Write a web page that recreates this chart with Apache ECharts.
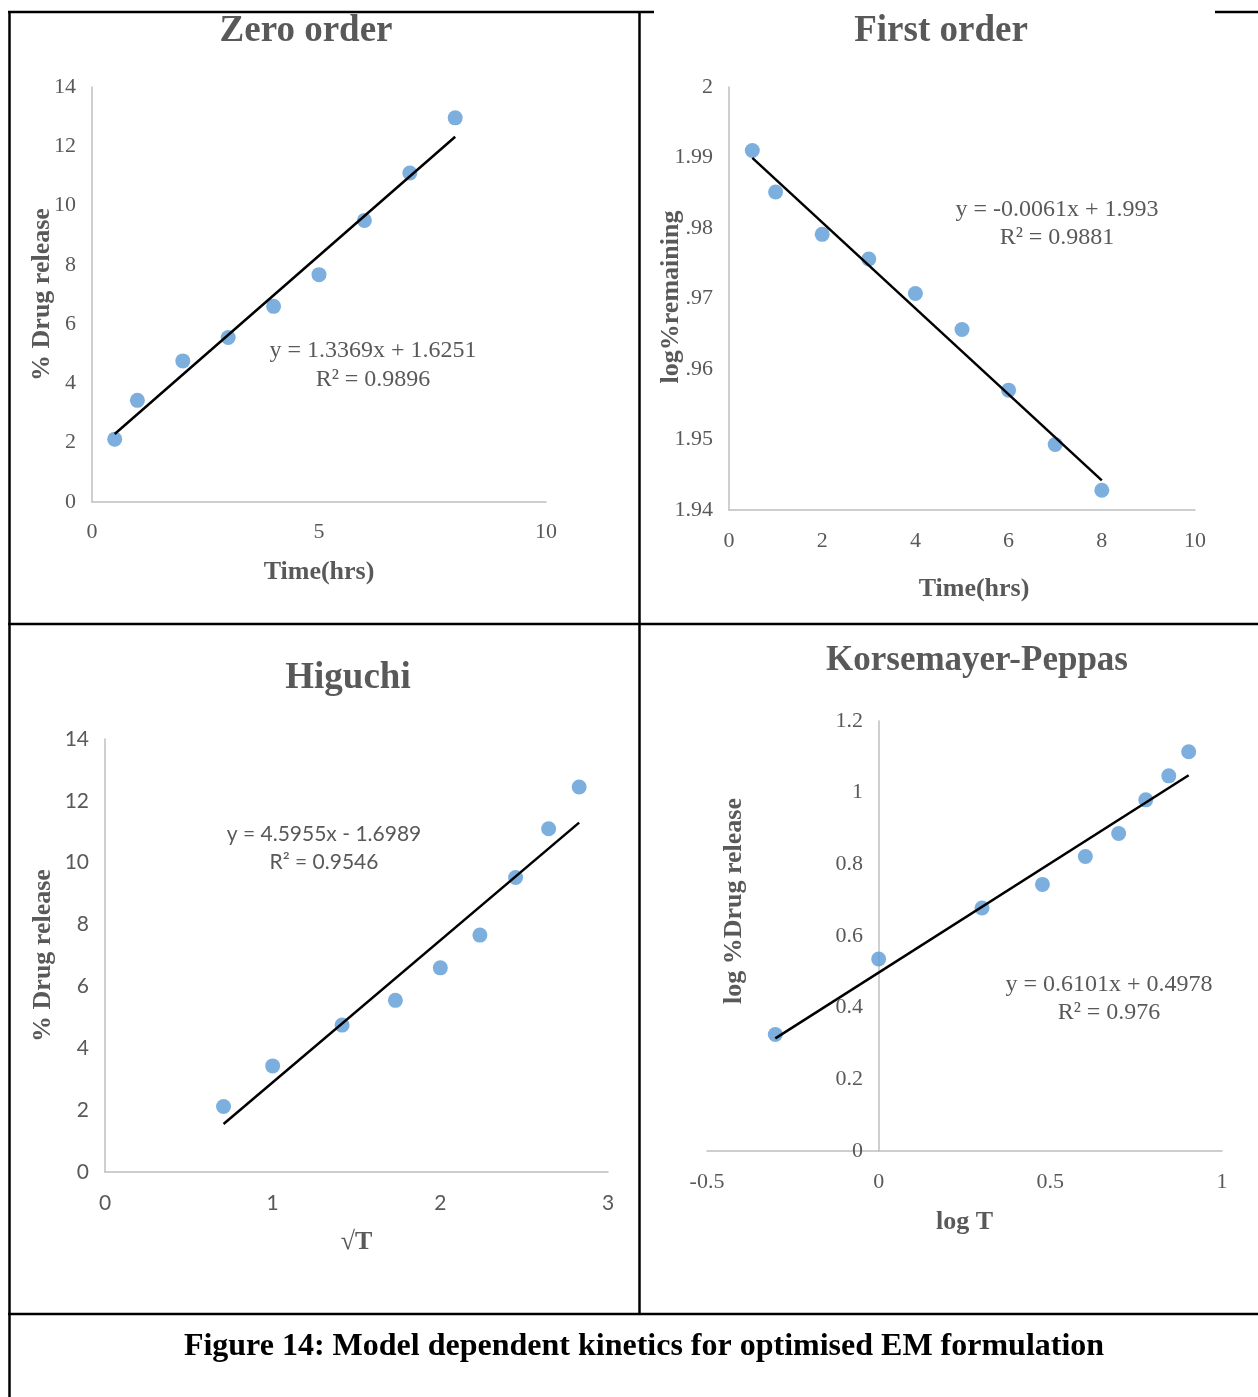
<!DOCTYPE html>
<html>
<head>
<meta charset="utf-8">
<script src="https://cdn.jsdelivr.net/npm/echarts@6/dist/echarts.min.js"></script>
<style>
  html, body { margin: 0; padding: 0; background: #fff; }
  #chart { width: 1258px; height: 1397px; }
</style>
</head>
<body>
<div id="chart"></div>
<script>
// Drug-release kinetics of the optimised EM formulation, four model fits

const timeHrs = [0.5, 1, 2, 3, 4, 5, 6, 7, 8];
const zeroRelease = [2.12, 3.43, 4.76, 5.55, 6.60, 7.67, 9.50, 11.10, 12.96];
const firstLogRemaining = [1.9910, 1.9851, 1.9791, 1.9756, 1.9707, 1.9656, 1.9570, 1.9493, 1.9428];
const rootT = [0.707, 1, 1.414, 1.732, 2, 2.236, 2.449, 2.646, 2.828];
const higuchiRelease = [2.12, 3.43, 4.75, 5.55, 6.60, 7.66, 9.52, 11.10, 12.45];
const logT = [-0.301, 0, 0.301, 0.477, 0.602, 0.699, 0.778, 0.845, 0.903];
const logRelease = [0.325, 0.536, 0.678, 0.744, 0.822, 0.886, 0.980, 1.047, 1.114];

// Linear trendlines as printed on each panel
const fitSlope = [1.3369, -0.0061, 4.5955, 0.6101];
const fitIntercept = [1.6251, 1.993, -1.6989, 0.4978];
const fitEquation = ['y = 1.3369x + 1.6251', 'y = -0.0061x + 1.993', 'y = 4.5955x - 1.6989', 'y = 0.6101x + 0.4978'];
const fitR2 = ['R² = 0.9896', 'R² = 0.9881', 'R² = 0.9546', 'R² = 0.976'];

const panelTitles = ['Zero order', 'First order', 'Higuchi', 'Korsemayer-Peppas'];
const xNames = ['Time(hrs)', 'Time(hrs)', '√T', 'log T'];
const yNames = ['% Drug release', 'log%remaining', '% Drug release', 'log %Drug release'];
const caption = 'Figure 14: Model dependent kinetics for optimised EM formulation';

const panelX = [timeHrs, timeHrs, rootT, logT];
const panelY = [zeroRelease, firstLogRemaining, higuchiRelease, logRelease];

const SERIF = '"Liberation Serif", "Times New Roman", serif';
const SANS = 'Lato, "Liberation Sans", sans-serif';
const GREY = '#595959';
const AXIS_GREY = '#bfbfbf';
const DOT = '#5b9bd5';

const grids = [
  { left: 92, top: 87, width: 454, height: 415 },
  { left: 729, top: 87, width: 466, height: 423 },
  { left: 105, top: 739, width: 503, height: 433 },
  { left: 707, top: 721, width: 515, height: 430 }
];

const xRange = [[0, 10, 5], [0, 10, 2], [0, 3, 1], [-0.5, 1, 0.5]];
const yRange = [[0, 14, 2], [1.94, 2, 0.01], [0, 14, 2], [0, 1.2, 0.2]];
const labelFont = [SERIF, SERIF, SANS, SERIF];
const labelSize = [22, 22, 21, 22];
const xNameGap = [57, 66, 57, 58];
const yNameGap = [37, 45, 49, 132];
// the Korsmeyer-Peppas value axis sits on log T = 0
const yAxisShift = [0, 0, 0, -172];
const xLabelMargin = [19, 20, 21, 20];
const yLabelMargin = [16, 16, 16, 16];
const decimals = [0, 2, 0, 1];

function fmt(d) {
  return function (v) { return String(parseFloat(v.toFixed(d))); };
}

const xAxes = grids.map(function (g, i) {
  return {
    gridIndex: i, type: 'value',
    min: xRange[i][0], max: xRange[i][1], interval: xRange[i][2],
    name: xNames[i], nameLocation: 'middle', nameGap: xNameGap[i],
    nameMoveOverlap: false,
    nameTextStyle: {
      fontFamily: SERIF, fontWeight: 'bold', fontSize: 26, color: GREY,
      padding: i === 1 ? [0, 0, 0, 24] : 0
    },
    axisLine: { show: true, onZero: false, lineStyle: { color: AXIS_GREY, width: 1.5 } },
    axisTick: { show: false },
    splitLine: { show: false },
    axisLabel: {
      fontFamily: labelFont[i], fontSize: labelSize[i], color: GREY,
      margin: xLabelMargin[i], formatter: fmt(i === 3 ? 1 : 0)
    }
  };
});

const yAxes = grids.map(function (g, i) {
  const nameStyle = { fontFamily: SERIF, fontWeight: 'bold', fontSize: 26, color: GREY };
  if (i === 3) { nameStyle.padding = [0, 0, 0, 70]; }
  return {
    gridIndex: i, type: 'value',
    min: yRange[i][0], max: yRange[i][1], interval: yRange[i][2],
    offset: yAxisShift[i],
    // the first-order axis title is laid over its tick labels further below
    name: i === 1 ? '' : yNames[i], nameLocation: 'middle', nameGap: yNameGap[i],
    nameMoveOverlap: false,
    nameTextStyle: nameStyle,
    axisLine: { show: true, onZero: false, lineStyle: { color: AXIS_GREY, width: 1.5 } },
    axisTick: { show: false },
    splitLine: { show: false },
    axisLabel: {
      fontFamily: labelFont[i], fontSize: labelSize[i], color: GREY,
      margin: yLabelMargin[i], formatter: fmt(decimals[i])
    }
  };
});

const series = [];
grids.forEach(function (g, i) {
  const xs = panelX[i], ys = panelY[i];
  series.push({
    type: 'scatter', xAxisIndex: i, yAxisIndex: i,
    symbol: 'circle', symbolSize: 15,
    itemStyle: { color: DOT },
    data: xs.map(function (x, k) { return [x, ys[k]]; }),
    z: 2, silent: true
  });
  const x0 = xs[0], x1 = xs[xs.length - 1];
  series.push({
    type: 'line', xAxisIndex: i, yAxisIndex: i,
    showSymbol: false, symbol: 'none',
    lineStyle: { color: '#000', width: 2.5 },
    data: [[x0, fitSlope[i] * x0 + fitIntercept[i]], [x1, fitSlope[i] * x1 + fitIntercept[i]]],
    z: 3, silent: true
  });
});

// Text placed on the page: panel titles, fit equations, caption
const titlePos = [[306, 31, 37], [941, 31, 37], [348, 678, 37], [977, 661, 35]];
const eqPos = [[373, 351, 380], [1057, 210, 238], [324, 834, 862], [1109, 985, 1013]];
const eqFont = [SERIF, SERIF, SANS, SERIF];
const eqSize = [24, 24, 21, 24];

const graphics = [];
function hline(x1, x2, y) {
  graphics.push({ type: 'line', shape: { x1: x1, y1: y, x2: x2, y2: y }, style: { stroke: '#000', lineWidth: 2.5 }, silent: true });
}
function vline(x, y1, y2) {
  graphics.push({ type: 'line', shape: { x1: x, y1: y1, x2: x, y2: y2 }, style: { stroke: '#000', lineWidth: 2.5 }, silent: true });
}
hline(8, 654, 12);
hline(1215, 1258, 12);
hline(8, 1258, 624);
hline(8, 1258, 1314);
vline(9.5, 11, 1397);
vline(639.5, 11, 1315);

function text(str, x, y, font, size, weight, color) {
  graphics.push({
    type: 'text', x: x, y: y, silent: true,
    style: {
      text: str, fontFamily: font, fontSize: size, fontWeight: weight,
      fill: color, align: 'center', verticalAlign: 'middle'
    }
  });
}
panelTitles.forEach(function (t, i) {
  text(t, titlePos[i][0], titlePos[i][1], SERIF, titlePos[i][2], 'bold', GREY);
  text(fitEquation[i], eqPos[i][0], eqPos[i][1], eqFont[i], eqSize[i], 'normal', GREY);
  text(fitR2[i], eqPos[i][0], eqPos[i][2], eqFont[i], eqSize[i], 'normal', GREY);
});
text(caption, 644, 1347, SERIF, 32, 'bold', '#000');

// First-order axis title on a white box, covering the leading digits
graphics.push({
  type: 'text', x: 671, y: 297, rotation: Math.PI / 2, z: 100, silent: true,
  style: {
    text: yNames[1], fontFamily: SERIF, fontSize: 26, fontWeight: 'bold',
    fill: GREY, align: 'center', verticalAlign: 'middle',
    backgroundColor: '#fff', padding: [0, 2]
  }
});

const chart = echarts.init(document.getElementById('chart'), null, { renderer: 'canvas' });
chart.setOption({
  backgroundColor: '#fff',
  animation: false,
  grid: grids,
  xAxis: xAxes,
  yAxis: yAxes,
  series: series,
  graphic: graphics
});
</script>
</body>
</html>
